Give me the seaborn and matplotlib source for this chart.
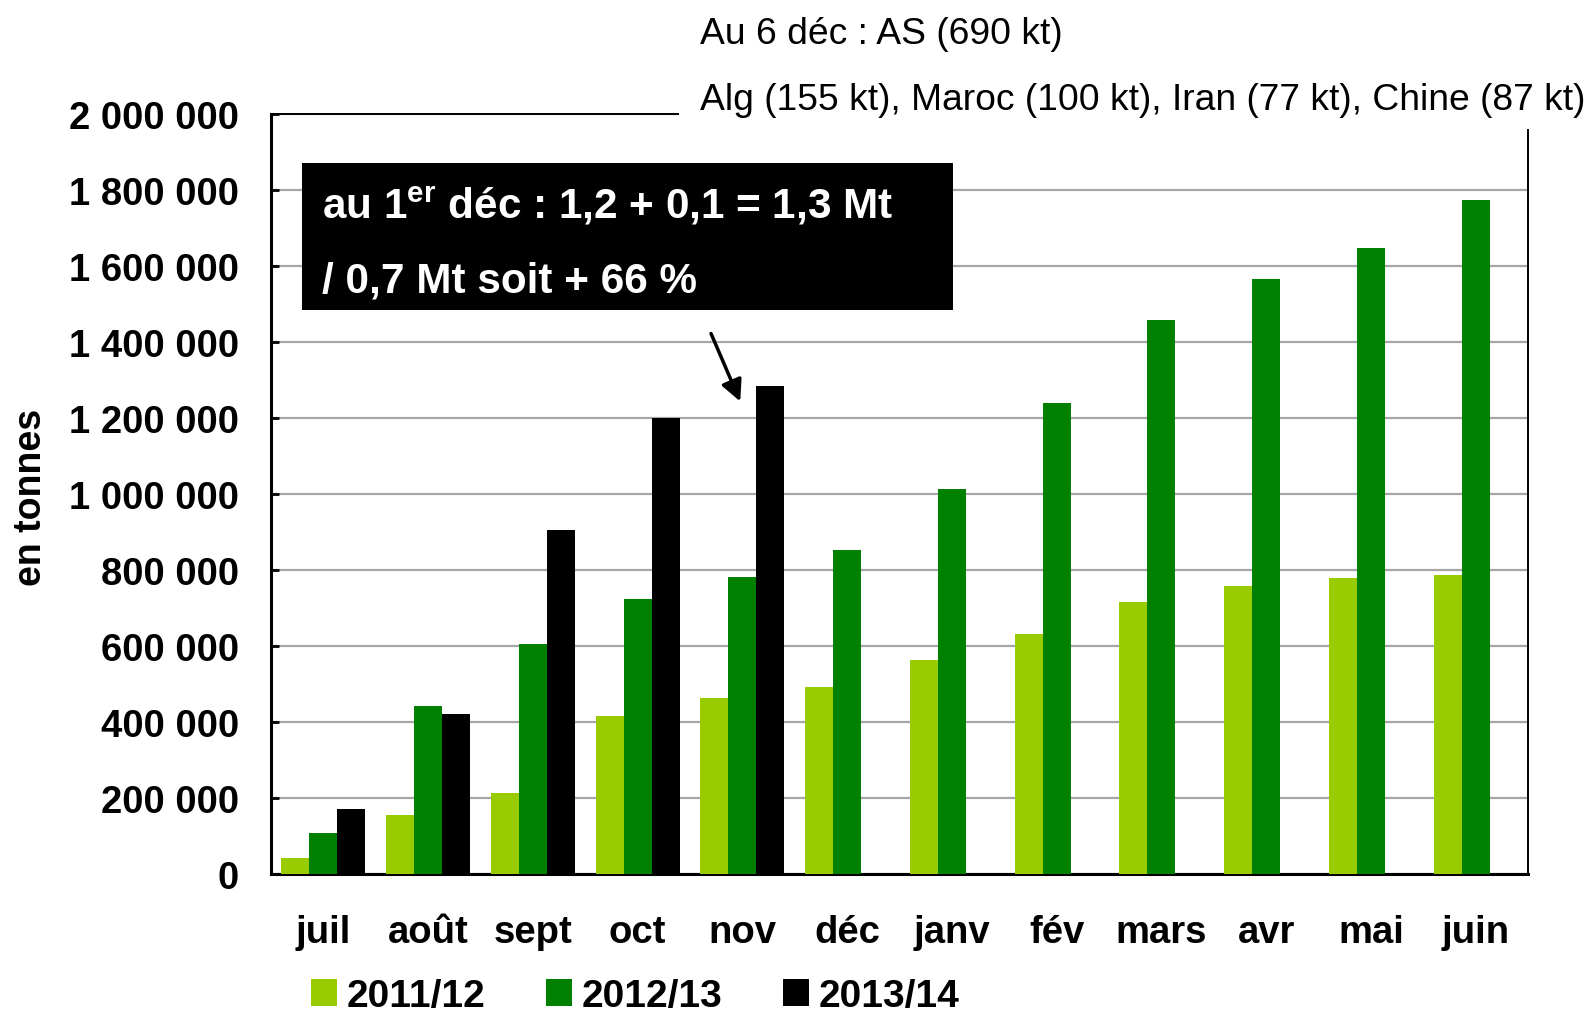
import numpy as np
import pandas as pd
import seaborn as sns
import matplotlib.pyplot as plt
from matplotlib.patches import Rectangle

# Data (tonnes)
mois = ["juil", "août", "sept", "oct", "nov", "déc",
        "janv", "fév", "mars", "avr", "mai", "juin"]
campagnes = ["2011/12", "2012/13", "2013/14"]
v_2011 = [43000, 155000, 213000, 416000, 464000, 491000,
          563000, 632000, 717000, 757000, 779000, 787000]
v_2012 = [107000, 443000, 605000, 723000, 781000, 853000,
          1013000, 1240000, 1459000, 1565000, 1648000, 1773000]
v_2013 = [171000, 421000, 904000, 1200000, 1283000, np.nan,
          np.nan, np.nan, np.nan, np.nan, np.nan, np.nan]
couleurs = ["#99CC00", "#008000", "#000000"]
y_ticks = [0, 200000, 400000, 600000, 800000, 1000000,
           1200000, 1400000, 1600000, 1800000, 2000000]

titre_1 = "Au 6 déc : AS (690 kt)"
titre_2 = "Alg (155 kt), Maroc (100 kt), Iran (77 kt), Chine (87 kt)"
note_1 = r"au 1$^{\mathbf{er}}$ déc : 1,2 + 0,1 = 1,3 Mt"
note_2 = "/ 0,7 Mt soit + 66 %"

df = pd.DataFrame({
    "mois": mois * 3,
    "campagne": np.repeat(campagnes, len(mois)),
    "tonnes": v_2011 + v_2012 + v_2013,
})

sns.set_style("white")
plt.rcParams["font.family"] = ["Liberation Sans", "DejaVu Sans"]
plt.rcParams["mathtext.fontset"] = "custom"
plt.rcParams["mathtext.rm"] = "Liberation Sans"
plt.rcParams["mathtext.bf"] = "Liberation Sans:bold"
for key in ["text.color", "axes.labelcolor", "xtick.color", "ytick.color"]:
    plt.rcParams[key] = "black"

W, H = 1590, 1020
fig = plt.figure(figsize=(W / 100, H / 100), dpi=100)
ax = fig.add_axes([271 / W, 1 - 875 / H, (1528 - 271) / W, (875 - 115) / H])

sns.barplot(data=df, x="mois", y="tonnes", hue="campagne", order=mois,
            hue_order=campagnes, palette=couleurs, saturation=1,
            errorbar=None, width=0.8, linewidth=0, ax=ax, zorder=3,
            legend=True)

ax.set_ylim(0, 2000000)
ax.set_xlim(-0.5, 11.5)
ax.set_yticks(y_ticks)
ax.set_yticklabels([f"{v:,.0f}".replace(",", " ") for v in y_ticks],
                   fontsize=27.5, fontweight="bold")
ax.set_xticks(range(len(mois)))
ax.set_xticklabels(mois, fontsize=27.5, fontweight="bold")
ax.set_xticks(np.arange(0.5, 11, 1), minor=True)
ax.tick_params(axis="x", which="major", length=0, pad=29)
ax.tick_params(axis="x", which="minor", direction="in", length=9, width=1.5)
ax.tick_params(axis="y", direction="in", length=6, width=2, pad=23, left=True)
ax.set_xlabel("")
ax.set_ylabel("en tonnes", fontsize=27, fontweight="bold")
ax.yaxis.set_label_coords(-0.177, 0.497)

ax.yaxis.grid(True, color="#A6A6A6", linewidth=1.6, zorder=0)
ax.set_axisbelow(True)
for side in ["left", "bottom"]:
    ax.spines[side].set_linewidth(2.2)
for side in ["top", "right"]:
    ax.spines[side].set_linewidth(1.4)
for sp in ax.spines.values():
    sp.set_color("black")
    sp.set_visible(True)

# black annotation box
ax.add_patch(Rectangle((-0.204, 1484000), 6.214, 387000, facecolor="black",
                       edgecolor="none", zorder=5))
ax.text(-0.013, 1760000, note_1, color="white", fontsize=30.4,
        fontweight="bold", va="center", ha="left", zorder=6)
ax.text(-0.013, 1561000, note_2, color="white", fontsize=30.4,
        fontweight="bold", va="center", ha="left", zorder=6)
ax.annotate("", xy=(3.99, 1237000), xytext=(3.69, 1429000),
            arrowprops=dict(arrowstyle="-|>", color="black", lw=2.5,
                            mutation_scale=32), zorder=6)

# legend below the chart
handles, labels = ax.get_legend_handles_labels()
ax.get_legend().remove()
fig.legend(handles, labels, loc="center left",
           bbox_to_anchor=(295 / W, 1 - 997 / H), ncol=3, frameon=False,
           prop={"size": 28, "weight": "bold"}, handlelength=0.68,
           handleheight=0.68, handletextpad=0.25, columnspacing=1.55,
           borderaxespad=0)

# white band behind the country text hides the frame corner
fig.add_artist(Rectangle((679 / W, 1 - 130 / H), 1 - 679 / W, 70 / H,
                         transform=fig.transFigure, facecolor="white",
                         edgecolor="none", zorder=10))
fig.text(700 / W, 1 - 35 / H, titre_1, fontsize=26.8, va="center",
         ha="left", zorder=11)
fig.text(700 / W, 1 - 101 / H, titre_2, fontsize=26.8, va="center",
         ha="left", zorder=11)

fig.savefig("out.png", dpi=100)
